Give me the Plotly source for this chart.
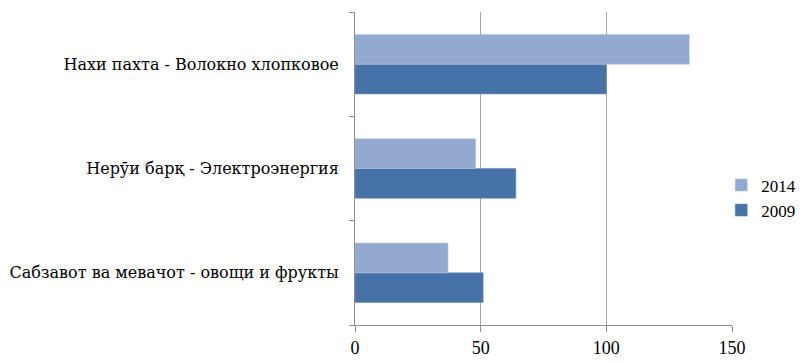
import plotly.graph_objects as go

# categories, bottom to top as drawn
categories = [
    "Сабзавот ва мевачот - овощи и фрукты",
    "Нерӯи барқ - Электроэнергия",
    "Нахи пахта - Волокно хлопковое",
]
values_2009 = [51, 64, 100]
values_2014 = [37, 48, 133]
x_ticks = [0, 50, 100, 150]

FONT = "'Liberation Serif', 'Times New Roman', serif"
LABEL_FONT = "'DejaVu Serif', serif"

fig = go.Figure()
fig.add_trace(go.Bar(y=categories, x=values_2009, name="2009", orientation="h", legendgroup="a",
                     marker=dict(color="#4672A8", line=dict(color="#6E8FBA", width=0.6))))
fig.add_trace(go.Bar(y=categories, x=values_2014, name="2014", orientation="h", legendgroup="b",
                     marker=dict(color="#94A9CF", line=dict(color="#B3C2DD", width=0.6))))

# page body adds 8px margin, so the figure is 8px smaller and shifted
fig.update_layout(
    width=798, height=355,
    margin=dict(l=347, r=0, t=4, b=38),
    plot_bgcolor="white", paper_bgcolor="white",
    barmode="group", bargap=0.43, bargroupgap=0,
    font=dict(family=FONT, color="black"),
    legend=dict(x=0.812, xanchor="left", y=0.406, yanchor="middle",
                traceorder="reversed", font=dict(size=17, family=FONT),
                itemwidth=30, tracegroupgap=12, bgcolor="rgba(0,0,0,0)"),
    showlegend=True,
)
fig.update_xaxes(
    domain=[0, 377 / 451],
    range=[0, 150], tickvals=x_ticks, showgrid=True, gridcolor="#A6A6A6", gridwidth=1,
    showline=True, linecolor="#8C8C8C", ticks="outside", ticklen=6, tickcolor="#8C8C8C",
    tickfont=dict(size=18, family=FONT), zeroline=False, automargin=False,
)
fig.update_yaxes(
    showline=True, linecolor="#8C8C8C", ticks="outside", ticklen=5, tickcolor="#8C8C8C",
    tickson="boundaries", tickfont=dict(size=16, family=LABEL_FONT), ticklabelstandoff=12,
    automargin=False,
)

fig.write_html("out.html")
